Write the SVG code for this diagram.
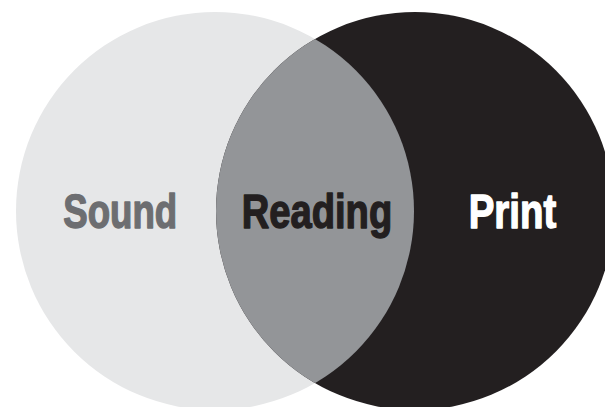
<svg xmlns="http://www.w3.org/2000/svg" width="605" height="407" viewBox="0 0 605 407">
<style>
.lbl{font-family:"Liberation Sans Narrow","Liberation Sans","DejaVu Sans Condensed",sans-serif;font-weight:bold;font-size:48px;stroke-width:1.4;stroke-linejoin:round;}
</style>
<defs>
<clipPath id="clipL"><circle cx="215" cy="211" r="199"/></clipPath>
</defs>
<rect width="605" height="407" fill="#ffffff"/>
<g id="sound">
<circle cx="215" cy="211" r="199" fill="#e6e7e8"/>
</g>
<g id="print">
<circle cx="415" cy="211" r="199" fill="#231f20"/>
</g>
<g id="reading">
<circle cx="415" cy="211" r="199" fill="#939598" clip-path="url(#clipL)"/>
</g>
<g id="labels">
<text class="lbl" x="63.2" y="227.5" textLength="114" lengthAdjust="spacingAndGlyphs" fill="#6d6e71" stroke="#6d6e71">Sound</text>
<text class="lbl" x="241.7" y="227.5" textLength="150.5" lengthAdjust="spacingAndGlyphs" fill="#231f20" stroke="#231f20">Reading</text>
<text class="lbl" x="468.7" y="227.5" textLength="87.5" lengthAdjust="spacingAndGlyphs" fill="#ffffff" stroke="#ffffff">Print</text>
</g>
</svg>
